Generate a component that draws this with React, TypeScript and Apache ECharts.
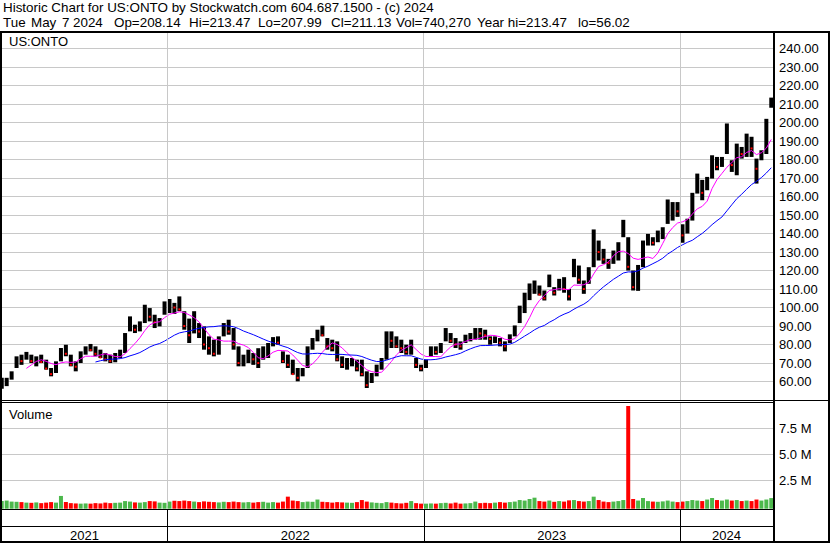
import React, { useEffect, useRef } from "react";
import * as echarts from "echarts";

// ---- Weekly price history for US:ONTO (May 2021 - May 2024) ----
const weekLow = [
  56.02, 57.5, 61.0, 67.3, 69.0, 71.8, 70.0, 68.2, 70.0, 66.4,
  62.8, 64.6, 70.9, 73.6, 68.2, 65.5, 70.0, 74.5, 76.3, 73.6,
  72.7, 70.9, 70.0, 70.4, 72.7, 75.4, 87.1, 86.2, 87.1, 91.6,
  92.5, 88.9, 89.8, 96.1, 97.0, 96.5, 98.0, 88.0, 80.8, 86.0,
  83.5, 77.2, 74.5, 73.6, 74.5, 84.4, 85.3, 77.2, 68.2, 68.2,
  70.0, 69.0, 67.3, 71.8, 72.7, 79.0, 79.9, 70.0, 67.3, 63.7,
  60.1, 62.8, 67.3, 77.2, 81.7, 84.4, 77.2, 76.3, 70.9, 67.3,
  66.4, 68.2, 65.5, 62.8, 56.5, 59.2, 62.8, 66.4, 71.8, 78.1,
  78.1, 75.4, 74.5, 74.5, 67.3, 65.5, 67.3, 73.6, 74.5, 75.4,
  81.7, 80.8, 78.1, 77.2, 80.8, 81.7, 82.6, 82.6, 82.6, 79.9,
  80.8, 79.0, 76.3, 80.8, 84.4, 91.6, 97.0, 104.0, 107.4, 106.5,
  103.8, 111.0, 106.5, 109.2, 108.0, 103.8, 116.4, 112.8, 107.4, 112.8,
  121.8, 125.4, 123.6, 120.9, 123.6, 125.4, 138.0, 120.0, 109.2, 109.0,
  121.8, 133.5, 133.5, 135.3, 137.0, 145.2, 147.0, 149.0, 135.0, 140.0,
  147.0, 161.6, 158.0, 163.4, 169.7, 174.2, 176.0, 183.0, 173.3, 171.5,
  180.5, 181.4, 181.4, 167.0, 179.6, 183.0, 207.99,
];

const weekHigh = [
  62.0, 62.0, 65.5, 73.6, 74.5, 76.0, 74.5, 73.6, 74.5, 71.8,
  67.3, 70.9, 78.1, 79.9, 74.5, 70.9, 76.3, 79.0, 80.3, 79.0,
  77.2, 75.4, 74.5, 75.4, 77.2, 86.2, 95.2, 90.7, 92.5, 101.5,
  99.7, 96.1, 94.3, 103.3, 104.6, 102.5, 106.0, 98.0, 94.0, 98.0,
  91.6, 89.8, 84.4, 82.6, 84.4, 91.6, 93.4, 88.9, 79.0, 74.5,
  77.2, 75.4, 78.0, 79.0, 80.8, 84.0, 84.4, 76.3, 74.5, 71.8,
  67.3, 67.3, 79.0, 83.5, 88.0, 90.2, 83.5, 82.6, 81.7, 73.6,
  72.7, 72.7, 71.8, 71.8, 65.5, 64.6, 69.1, 72.7, 87.1, 87.1,
  84.4, 82.6, 79.9, 82.6, 72.7, 69.1, 71.8, 79.0, 79.0, 80.8,
  88.9, 86.2, 83.5, 81.7, 85.3, 86.2, 88.9, 88.9, 88.0, 84.4,
  84.4, 83.5, 81.7, 85.5, 90.3, 101.0, 108.0, 113.0, 114.6, 111.9,
  109.2, 117.8, 111.0, 115.5, 116.4, 110.0, 126.3, 122.7, 114.6, 121.8,
  142.2, 136.2, 131.7, 126.3, 130.8, 135.3, 147.4, 138.0, 120.0, 123.0,
  136.2, 139.8, 138.0, 141.6, 143.4, 158.4, 157.0, 157.0, 145.0, 148.0,
  162.0, 172.4, 169.0, 170.6, 182.3, 181.4, 181.4, 199.5, 179.6, 188.6,
  186.8, 194.0, 192.3, 180.5, 185.0, 202.0, 213.47,
];

const weekClose = [
  59.5, 61.0, 65.0, 72.0, 71.0, 74.0, 71.0, 72.0, 70.5, 67.0,
  64.0, 70.0, 77.0, 75.0, 69.0, 68.0, 75.0, 78.0, 77.0, 75.0,
  73.0, 72.0, 71.0, 73.0, 76.0, 85.0, 90.0, 88.0, 90.0, 96.0,
  95.0, 92.0, 93.0, 101.0, 101.0, 100.0, 99.0, 90.0, 85.0, 92.0,
  87.0, 80.0, 78.0, 75.0, 83.0, 88.0, 87.0, 80.0, 70.0, 70.0,
  75.0, 72.0, 70.0, 77.0, 79.0, 82.0, 81.0, 71.0, 69.0, 64.0,
  62.0, 65.0, 77.0, 80.0, 86.0, 85.0, 79.0, 78.0, 72.0, 69.0,
  70.0, 70.0, 67.0, 64.0, 58.0, 63.0, 67.0, 71.0, 84.0, 82.0,
  79.0, 78.0, 76.0, 80.0, 69.0, 67.0, 71.0, 78.0, 76.0, 79.0,
  86.0, 82.0, 80.0, 79.0, 84.0, 85.0, 87.0, 86.0, 85.0, 83.0,
  83.0, 81.0, 79.0, 84.0, 89.0, 100.0, 105.0, 110.0, 112.0, 107.0,
  105.0, 116.0, 108.0, 113.0, 110.0, 106.0, 120.0, 115.0, 110.0, 120.0,
  138.0, 130.0, 126.0, 124.0, 130.0, 133.0, 140.0, 122.0, 111.0, 120.0,
  134.0, 137.0, 135.0, 140.0, 142.0, 151.0, 154.0, 152.0, 139.0, 147.0,
  160.0, 168.0, 162.0, 169.0, 180.0, 176.0, 180.0, 188.0, 177.0, 185.0,
  183.0, 190.0, 186.0, 175.0, 183.0, 200.0, 211.13,
];

// Typical daily volume for each week, in millions of shares
const weekVolume = [
  0.45, 0.5, 0.4, 0.38, 0.35, 0.3, 0.28, 0.32, 0.25, 0.3,
  0.35, 0.3, 0.95, 0.35, 0.25, 0.22, 0.2, 0.22, 0.2, 0.25,
  0.22, 0.3, 0.25, 0.28, 0.3, 0.45, 0.4, 0.32, 0.3, 0.35,
  0.45, 0.42, 0.3, 0.28, 0.4, 0.48, 0.45, 0.5, 0.45, 0.4,
  0.35, 0.42, 0.38, 0.35, 0.32, 0.38, 0.35, 0.4, 0.35, 0.32,
  0.35, 0.3, 0.35, 0.38, 0.3, 0.35, 0.3, 0.4, 0.88, 0.5,
  0.45, 0.35, 0.4, 0.38, 0.6, 0.38, 0.35, 0.3, 0.35, 0.32,
  0.3, 0.28, 0.35, 0.55, 0.4, 0.32, 0.28, 0.25, 0.35, 0.3,
  0.25, 0.22, 0.28, 0.45, 0.25, 0.2, 0.2, 0.22, 0.2, 0.25,
  0.28, 0.22, 0.3, 0.2, 0.22, 0.25, 0.4, 0.25, 0.28, 0.25,
  0.3, 0.35, 0.3, 0.35, 0.4, 0.55, 0.5, 0.65, 0.78, 0.45,
  0.4, 0.5, 0.38, 0.45, 0.4, 0.52, 0.55, 0.45, 0.4, 0.45,
  0.88, 0.55, 0.4, 0.35, 0.4, 0.45, 0.55, 9.7, 0.65, 0.5,
  0.75, 0.45, 0.4, 0.38, 0.42, 0.5, 0.4, 0.35, 0.4, 0.45,
  0.55, 0.5, 0.45, 0.6, 0.75, 0.55, 0.5, 0.6, 0.5, 0.55,
  0.45, 0.5, 0.45, 0.6, 0.5, 0.6, 0.74,
];

// First week index of each new calendar year, and the year names
const yearStartWeek = [34, 86, 138];
const yearLabels = ["2021", "2022", "2023", "2024"];

// Price axis and volume axis ticks
const priceTicks = { min: 50, max: 248.4, step: 10, firstLabel: 60, lastLabel: 240 };
const volumeTicks = { min: 0, max: 10, step: 2.5 };

const headerLine1 = "Historic Chart for US:ONTO by Stockwatch.com 604.687.1500 - (c) 2024";
const headerLine2 = [
  "Tue", "May", "7", "2024", "Op=208.14", "Hi=213.47", "Lo=207.99",
  "Cl=211.13", "Vol=740,270", "Year hi=213.47", "lo=56.02",
];

// Moving-average periods (in weeks)
const MA_SHORT = 6;
const MA_LONG = 20;

// ---- layout ----
const W = 830;
const H = 543;
const FONT = '"Liberation Sans", Arial, Helvetica, sans-serif';
const HEADER_SIZE = 13.4;
const LABEL_SIZE = 13;
const GRID_COLOR = "#c8c8c8";
const UP_COLOR = "#4cb84c";
const DOWN_COLOR = "#ff0000";
const header2X = [3, 31, 62, 73, 114, 189, 258, 331, 396, 477, 578];
const PLOT_LEFT = 2;
const PLOT_RIGHT = 773;
const X_MIN = 0.05;
const X_MAX = 156.35;
const PRICE_BAR_W = 4;
const VOLUME_BAR_W = 4;

function movingAverage(values: number[], period: number): (number[] | null)[] {
  return values.map((_, i) => {
    if (i < period - 1) return null;
    let s = 0;
    for (let k = i - period + 1; k <= i; k++) s += values[k];
    return [i, s / period];
  });
}

export default function App() {
  const ref = useRef<HTMLDivElement>(null);

  useEffect(() => {
    document.body.style.margin = "0";
    const chart = echarts.init(ref.current as HTMLDivElement, undefined, { renderer: "svg" });

    const isDown = (i: number) => (i > 0 && weekClose[i] < weekClose[i - 1] ? 1 : 0);
    const priceData = weekClose.map((c, i) => [i, weekLow[i], weekHigh[i], c, isDown(i)]);
    const volumeData = weekVolume.map((v, i) => [i, v, isDown(i)]);
    const maShort = movingAverage(weekClose, MA_SHORT).filter(Boolean);
    const maLong = movingAverage(weekClose, MA_LONG).filter(Boolean);

    const yearLines = {
      silent: true,
      symbol: "none",
      animation: false,
      label: { show: false },
      emphasis: { disabled: true },
      lineStyle: { color: GRID_COLOR, width: 1, type: "solid" },
      data: yearStartWeek.map((w) => ({ xAxis: w - 0.5 })),
    };

    const axisLabelBase = { color: "#000", fontFamily: FONT, fontSize: LABEL_SIZE, margin: 6, align: "left" };

    chart.setOption({
      animation: false,
      backgroundColor: "#fff",
      grid: [
        { left: PLOT_LEFT, top: 33, width: PLOT_RIGHT - PLOT_LEFT, height: 367, outerBoundsMode: "none" },
        { left: PLOT_LEFT, top: 402.9, width: PLOT_RIGHT - PLOT_LEFT, height: 102.8, outerBoundsMode: "none" },
      ],
      xAxis: [0, 1].map((g) => ({
        type: "value",
        gridIndex: g,
        min: X_MIN,
        max: X_MAX,
        show: false,
        splitLine: { show: false },
      })),
      yAxis: [
        {
          type: "value",
          gridIndex: 0,
          position: "right",
          min: priceTicks.min,
          max: priceTicks.max,
          interval: priceTicks.step,
          axisLine: { show: false },
          axisTick: { show: false },
          splitLine: { show: true, showMinLine: false, showMaxLine: false, lineStyle: { color: GRID_COLOR, width: 1 } },
          axisLabel: {
            ...axisLabelBase,
            showMaxLabel: false,
            formatter: (v: number) =>
              v >= priceTicks.firstLabel && v <= priceTicks.lastLabel && Math.abs(v % priceTicks.step) < 1e-6
                ? v.toFixed(2)
                : "",
          },
        },
        {
          type: "value",
          gridIndex: 1,
          position: "right",
          min: volumeTicks.min,
          max: volumeTicks.max,
          interval: volumeTicks.step,
          axisLine: { show: false },
          axisTick: { show: false },
          splitLine: { show: true, showMinLine: false, showMaxLine: false, lineStyle: { color: GRID_COLOR, width: 1 } },
          axisLabel: {
            ...axisLabelBase,
            formatter: (v: number) => (v > volumeTicks.min && v < volumeTicks.max ? v.toFixed(1) + " M" : ""),
          },
        },
      ],
      series: [
        {
          type: "custom",
          name: "price",
          xAxisIndex: 0,
          yAxisIndex: 0,
          clip: true,
          silent: true,
          encode: { x: 0, y: [1, 2, 3] },
          data: priceData,
          markLine: yearLines,
          renderItem: (_params: any, api: any) => {
            const i = api.value(0);
            const top = api.coord([i, api.value(2)]);
            const bot = api.coord([i, api.value(1)]);
            const cl = api.coord([i, api.value(3)]);
            const children: any[] = [
              {
                type: "rect",
                shape: {
                  x: top[0] - PRICE_BAR_W / 2,
                  y: top[1],
                  width: PRICE_BAR_W,
                  height: Math.max(1, bot[1] - top[1]),
                },
                style: { fill: "#000" },
              },
            ];
            if (api.value(4)) {
              children.push({
                type: "rect",
                shape: { x: cl[0] - 1, y: cl[1] - 1, width: 2, height: 2 },
                style: { fill: DOWN_COLOR },
              });
            }
            return { type: "group", children };
          },
        },
        {
          type: "line",
          name: "MA short",
          xAxisIndex: 0,
          yAxisIndex: 0,
          data: maShort,
          showSymbol: false,
          silent: true,
          lineStyle: { color: "#ff00ff", width: 1 },
        },
        {
          type: "line",
          name: "MA long",
          xAxisIndex: 0,
          yAxisIndex: 0,
          data: maLong,
          showSymbol: false,
          silent: true,
          lineStyle: { color: "#0000ff", width: 1 },
        },
        {
          type: "custom",
          name: "volume",
          xAxisIndex: 1,
          yAxisIndex: 1,
          clip: false,
          silent: true,
          encode: { x: 0, y: 1 },
          data: volumeData,
          markLine: yearLines,
          renderItem: (params: any, api: any) => {
            const i = api.value(0);
            const top = api.coord([i, api.value(1)]);
            const cs = params.coordSys;
            const base = cs.y + cs.height + 3;
            return {
              type: "rect",
              shape: { x: top[0] - VOLUME_BAR_W / 2, y: top[1], width: VOLUME_BAR_W, height: base - top[1] },
              style: { fill: api.value(2) ? DOWN_COLOR : UP_COLOR },
            };
          },
        },
      ],
    });

    // Frame, captions and the year strip along the bottom
    const px = (v: number) => chart.convertToPixel({ xAxisIndex: 0 }, v) as number;
    const bounds = [X_MIN, ...yearStartWeek.map((w) => w - 0.5), X_MAX].map(px);
    const bar = (x: number, y: number, w: number, h: number) => ({
      type: "rect",
      shape: { x, y, width: w, height: h },
      style: { fill: "#000" },
      z: 100,
      silent: true,
    });
    const text = (s: string, x: number, y: number, size = LABEL_SIZE, align = "left") => ({
      type: "text",
      x,
      y,
      z: 100,
      silent: true,
      style: {
        text: s,
        fill: "#000",
        fontFamily: FONT,
        fontSize: size,
        align,
        verticalAlign: "middle",
      },
    });

    const graphic: any[] = [
      text(headerLine1, 3, 7.5, HEADER_SIZE),
      ...headerLine2.map((s, k) => text(s, header2X[k], 22, HEADER_SIZE)),
      text("US:ONTO", 9, 41),
      text("Volume", 9, 414),
      bar(0, 31, W, 2),
      bar(0, 31, 2, H - 31),
      bar(W - 2, 31, 2, H - 31),
      bar(PLOT_RIGHT, 31, 2, H - 31),
      bar(0, 400, W, 1),
      bar(0, 402, PLOT_RIGHT, 1),
      bar(0, 509, PLOT_RIGHT, 1),
      bar(0, 526, PLOT_RIGHT, 1),
      bar(0, 541, W, 2),
      ...bounds.slice(1, -1).map((x) => bar(Math.round(x), 509, 1, 33)),
      ...yearLabels.map((y, k) => text(y, (bounds[k] + bounds[k + 1]) / 2, 535.5, LABEL_SIZE, "center")),
    ];
    chart.setOption({ graphic });

    return () => chart.dispose();
  }, []);

  return <div ref={ref} style={{ width: W, height: H }} />;
}
